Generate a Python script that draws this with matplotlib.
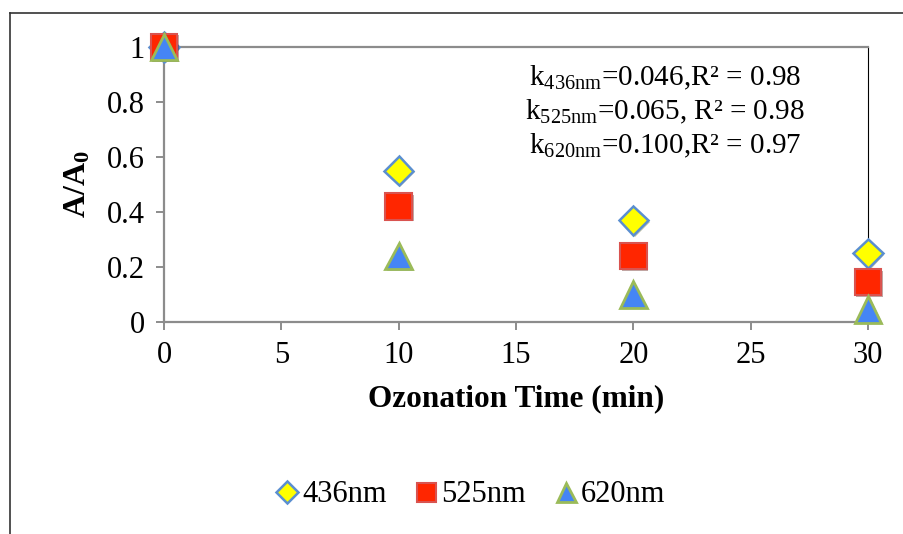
import matplotlib
matplotlib.use('Agg')
import matplotlib.pyplot as plt
import matplotlib.patheffects as pe
from matplotlib.lines import Line2D

# data
time_min = [0, 10, 20, 30]
a_436 = [1.0, 0.55, 0.37, 0.25]
a_525 = [1.0, 0.42, 0.24, 0.145]
a_620 = [1.0, 0.24, 0.10, 0.045]
series_labels = ['436nm', '525nm', '620nm']
fit_lines = [r'k$_{\rm 436nm}$=0.046,R² = 0.98',
             r'k$_{\rm 525nm}$=0.065, R² = 0.98',
             r'k$_{\rm 620nm}$=0.100,R² = 0.97']

plt.rcParams['font.family'] = ['Liberation Serif', 'DejaVu Serif']
plt.rcParams['mathtext.fontset'] = 'custom'
plt.rcParams['mathtext.rm'] = 'Liberation Serif'
plt.rcParams['mathtext.bf'] = 'Liberation Serif:bold'
plt.rcParams['mathtext.it'] = 'Liberation Serif:italic'

W, H = 904, 534
fig = plt.figure(figsize=(W / 100, H / 100), dpi=100)
ax = fig.add_axes([164 / W, 1 - 322 / H, (868 - 164) / W, (322 - 47) / H])

# outer chart frame (only top and left edges visible)
fig.add_artist(Line2D([10 / W, 10 / W], [0, 1 - 13 / H], transform=fig.transFigure,
                      color='#333333', lw=1.2))
fig.add_artist(Line2D([10 / W, 1], [1 - 13 / H, 1 - 13 / H], transform=fig.transFigure,
                      color='#333333', lw=1.2))

shadow = [pe.SimplePatchShadow(offset=(1.2, -1.2), alpha=0.35), pe.Normal()]

styles = [
    dict(marker='D', ms=15, mfc='#FFFF00', mec='#5B8FD0', mew=1.8),
    dict(marker='s', ms=19, mfc='#FF2600', mec='#D9534F', mew=1.5),
    dict(marker='^', ms=19, mfc='#4585F5', mec='#9BBB59', mew=2.0),
]
for ys, st, lab in zip([a_436, a_525, a_620], styles, series_labels):
    ax.plot(time_min, ys, ls='none', label=lab, clip_on=False, zorder=5,
            path_effects=shadow, **st)

ax.set_xlim(0, 30)
ax.set_ylim(0, 1)
ax.set_xticks(range(0, 31, 5))
ax.set_yticks([0, 0.2, 0.4, 0.6, 0.8, 1.0])
ax.set_yticklabels(['0', '0.2', '0.4', '0.6', '0.8', '1'])

for side in ['left', 'bottom', 'top']:
    ax.spines[side].set_color('#8C8C8C')
    ax.spines[side].set_linewidth(1.6)
ax.spines['right'].set_color('black')
ax.spines['right'].set_linewidth(0.8)
ax.tick_params(axis='both', direction='out', length=6, width=1.4, color='#8C8C8C',
               labelsize=22, pad=8)

ax.set_xlabel('Ozonation Time (min)', fontsize=22.5, fontweight='bold', labelpad=10)
ax.set_ylabel(r'$\mathbf{A/A_0}$', fontsize=23, labelpad=10)

for i, txt in enumerate(fit_lines):
    fig.text(665 / W, 1 - (78 + 34 * i) / H, txt, ha='center', va='center', fontsize=21)

handles = [Line2D([], [], ls='none', **dict(st, ms=st['ms'] * 0.72)) for st in styles]
fig.legend(handles, series_labels, loc='center', bbox_to_anchor=(470 / W, 1 - 495 / H),
           ncol=3, frameon=False, fontsize=22, handlelength=0.8, handletextpad=0.1,
           columnspacing=0.9)

fig.savefig('out.png', dpi=100)
